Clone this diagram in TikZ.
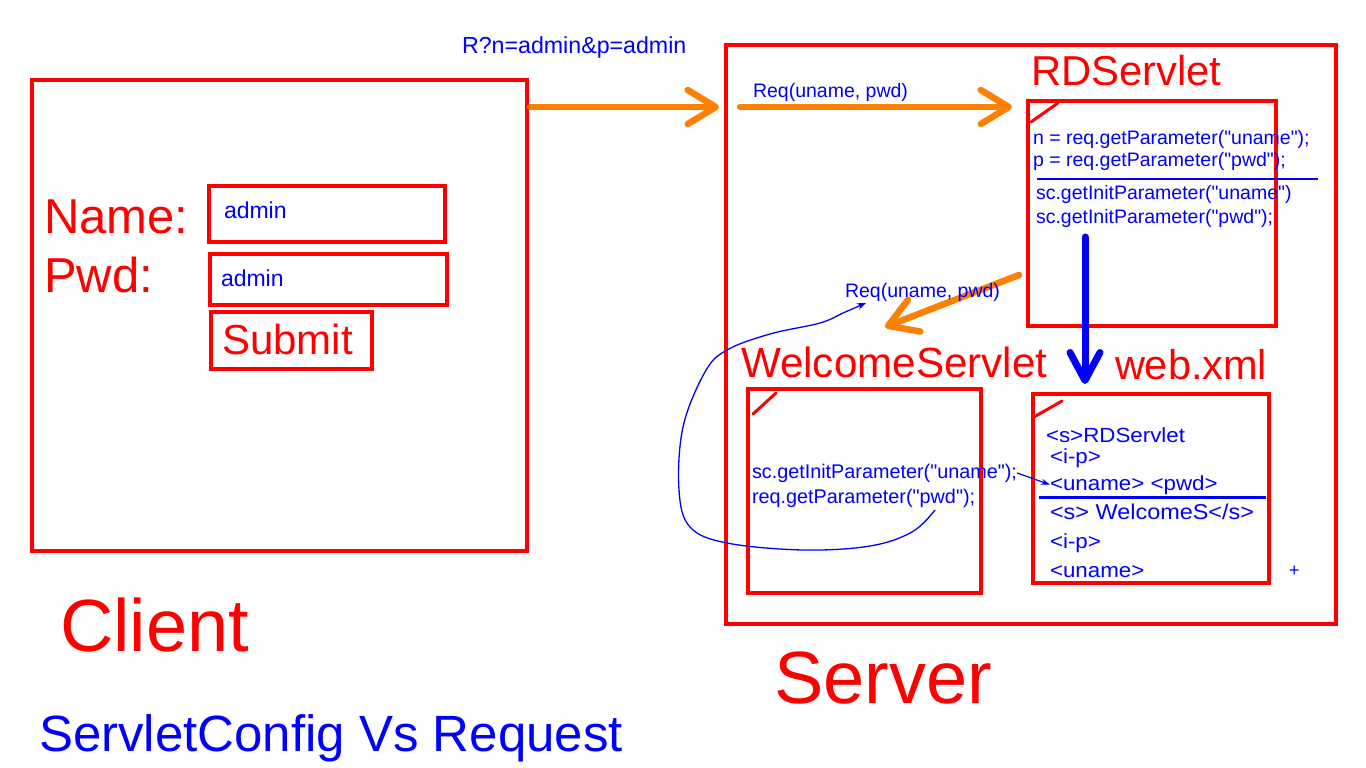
\documentclass[tikz,border=0pt]{standalone}
\usepackage{fontspec}
\setmainfont{Liberation Sans}
\newfontfamily\codefont{Liberation Sans}
\newfontfamily\webfont{Liberation Sans}[FakeStretch=1.09]
\usetikzlibrary{arrows.meta}
\definecolor{ored}{RGB}{255,0,0}
\definecolor{oblue}{RGB}{0,0,255}
\definecolor{oorange}{RGB}{255,128,0}
\newcommand{\fs}[1]{\fontsize{#1}{#1}\selectfont}
\tikzset{
  redbox/.style={draw=ored, line width=3.5pt, inner sep=0pt, outer sep=0pt, anchor=north west},
  lbl/.style={inner sep=0pt, outer sep=0pt, anchor=base west},
  redtxt/.style={lbl, text=ored},
  bluetxt/.style={lbl, text=oblue},
  codetxt/.style={bluetxt, font=\codefont\fs{19.5}},
  webtxt/.style={bluetxt, font=\webfont\fs{20.5}},
  orangearrow/.style={draw=oorange, line width=6.5pt, line cap=round, -{Straight Barb[length=28pt,width=34pt,round]}},
  bluearrow/.style={draw=oblue, line width=7pt, line cap=round, -{Straight Barb[length=28pt,width=30pt,round]}},
  thinarrow/.style={draw=oblue, line width=1.2pt, -{Stealth[length=9pt,width=6pt]}},
  corner/.style={draw=ored, line width=3pt, line cap=round},
  sepline/.style={draw=oblue, line width=2pt},
}
\begin{document}
\begin{tikzpicture}[x=1pt,y=-1pt]
\useasboundingbox[fill=white] (0,0) rectangle (1366,768);

% client side
\node[redbox, minimum width=495pt, minimum height=471pt] (client) at (32,80) {};
\node[redtxt, font=\fs{49}] (name) at (44,233) {Name:};
\node[redtxt, font=\fs{49}] (pwd) at (44,292) {Pwd:};
\node[redbox, minimum width=236pt, minimum height=56pt] (namebox) at (209,186) {};
\node[redbox, minimum width=237pt, minimum height=51pt] (pwdbox) at (210,254) {};
\node[redbox, minimum width=161pt, minimum height=57pt] (submitbox) at (211,312) {};
\node[bluetxt, font=\fs{23}] (nameval) at (224,218) {admin};
\node[bluetxt, font=\fs{23}] (pwdval) at (221,286) {admin};
\node[redtxt, font=\fs{42}] (submit) at (222,354) {Submit};
\node[redtxt, font=\fs{74}] (clientlbl) at (60,651) {Client};
\node[bluetxt, font=\fs{51}] (title) at (39,751) {ServletConfig Vs Request};

% query
\node[bluetxt, font=\fs{23.2}] (query) at (462,54) {R?n=admin\&p=admin};
\coordinate (o1s) at (530,107);
\coordinate (o1e) at (719,107);
\draw[orangearrow] (o1s) -- (o1e);

% server
\node[redbox, minimum width=610pt, minimum height=579pt] (server) at (726,45) {};
\node[redtxt, font=\fs{74}] (serverlbl) at (774,703) {Server};

\node[bluetxt, font=\fs{19.5}] (req1) at (753,97) {Req(uname, pwd)};
\coordinate (o2s) at (740,107);
\coordinate (o2e) at (1012,107);
\draw[orangearrow] (o2s) -- (o2e);

% RDServlet
\node[redtxt, font=\fs{41.8}] (rdtitle) at (1031,85) {RDServlet};
\node[redbox, minimum width=248pt, minimum height=225pt] (rd) at (1028,101) {};
\draw[corner] (1031,122) -- (1058,103);
\node[codetxt] (rd1) at (1033,144) {n = req.getParameter("uname");};
\node[codetxt] (rd2) at (1033,166) {p = req.getParameter("pwd");};
\draw[sepline] (1037,178.5) -- (1318,178.5);
\node[codetxt] (rd3) at (1036,199) {sc.getInitParameter("uname")};
\node[codetxt] (rd4) at (1036,223) {sc.getInitParameter("pwd");};

\coordinate (b1s) at (1085,237);
\coordinate (b1e) at (1085,384);
\draw[bluearrow] (b1s) -- (b1e);

\coordinate (o3s) at (1019,275);
\coordinate (o3e) at (885,327);
\draw[orangearrow] (o3s) -- (o3e);
\node[bluetxt, font=\fs{19.5}] (req2) at (845,297) {Req(uname, pwd)};

% WelcomeServlet
\node[redtxt, font=\fs{42.2}] (wtitle) at (741,377) {WelcomeServlet};
\node[redbox, minimum width=233pt, minimum height=204pt] (welcome) at (748,389) {};
\draw[corner] (753,414) -- (776,393);
\node[codetxt, font=\codefont\fs{19.8}] (w1) at (752,478) {sc.getInitParameter("uname");};
\node[codetxt, font=\codefont\fs{19.8}] (w2) at (752,503) {req.getParameter("pwd");};

% web.xml
\node[redtxt, font=\fs{41.5}] (webtitle) at (1115,379) {web.xml};
\node[redbox, minimum width=236pt, minimum height=189pt] (web) at (1033,394) {};
\draw[corner] (1034,417) -- (1062,401);
\node[webtxt] (x1) at (1046,442) {<s>RDServlet};
\node[webtxt] (x2) at (1050,463) {<i-p>};
\node[webtxt] (x3) at (1050,490) {<uname> <pwd>};
\draw[sepline, line width=3pt] (1039,497) -- (1266,497);
\node[webtxt, font=\webfont\fs{21.5}] (x4) at (1050,519) {<s> WelcomeS</s>};
\node[webtxt] (x5) at (1050,548) {<i-p>};
\node[webtxt] (x6) at (1050,577) {<uname>};
\node[bluetxt, font=\fs{18}] (plus) at (1289,576) {+};

\draw[thinarrow] (w1.east) -- (x3.west);

% hand-drawn curve
\coordinate (cs) at (935,510);
\coordinate (ce) at (866,303);
\draw[oblue, line width=1.3pt, -{Stealth[length=9pt,width=7pt]}] plot[smooth, tension=0.6] coordinates {(cs) (912,532) (870,546) (803,550) (727,543) (690,527) (679,490) (683,427) (705,372) (727,350) (770,334) (820,323) (843,313) (ce)};
\end{tikzpicture}
\end{document}
